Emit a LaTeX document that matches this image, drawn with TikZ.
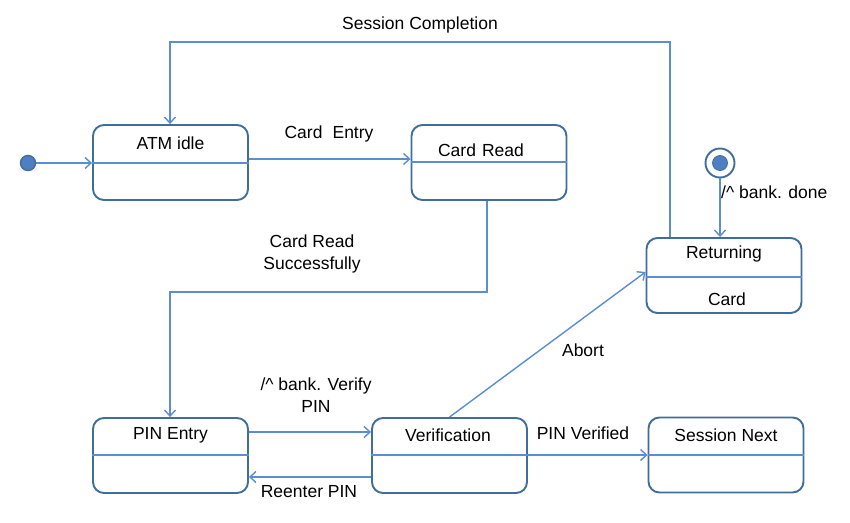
\documentclass[tikz,border=0pt]{standalone}
\usepackage{fontspec}
\setmainfont{Liberation Sans}
\usetikzlibrary{arrows.meta}
\definecolor{bord}{HTML}{3F6E9C}
\definecolor{conn}{HTML}{5B8DD2}
\definecolor{dotfill}{HTML}{4F7FC0}
\begin{document}
\begin{tikzpicture}[x=1pt,y=-1pt,
  state/.style={draw=bord,line width=1.9pt,rounded corners=11pt,fill=white,minimum width=155pt,minimum height=75pt,inner sep=0pt},
  txt/.style={font=\fontsize{17.5}{20}\selectfont,inner sep=0pt,text=black},
  lbl/.style={font=\fontsize{17.5}{22.5}\selectfont,inner sep=0pt,text=black,align=center},
  conn/.style={draw=conn,line width=1.4pt},
  arr/.style={conn,-{Straight Barb[length=6pt,width=11pt,line width=1.4pt]}},
  divl/.style={draw=conn,line width=1.4pt}]
\useasboundingbox (0,0) rectangle (850,522);
% states
\node[state] (idle) at (170.5,162.5) {};
\node[state] (card) at (489,162.5) {};
\node[state] (ret) at (724,275.5) {};
\node[state] (pin) at (170.5,455.5) {};
\node[state] (ver) at (449.5,455.5) {};
\node[state] (sess) at (726,455) {};
% dividers
\draw[divl] (idle.west |- 0,163) -- (idle.east |- 0,163);
\draw[divl] (card.west |- 0,162) -- (card.east |- 0,162);
\draw[divl] (ret.west |- 0,277) -- (ret.east |- 0,277);
\draw[divl] (pin.west |- 0,455) -- (pin.east |- 0,455);
\draw[divl] (ver.west |- 0,455) -- (ver.east |- 0,455);
\draw[divl] (sess.west |- 0,455) -- (sess.east |- 0,455);
% titles
\node[txt] (idle-t) at (170.5,143) {ATM idle};
\node[txt] (card-t) at (481,150) {Card\hspace{0.35em}Read};
\node[txt] (ret-t) at (724,254) {Returning};
\node[txt] (ret-c) at (727,299) {Card};
\node[txt] (pin-t) at (170.5,435) {PIN Entry};
\node[txt] (ver-t) at (448,435) {Verification};
\node[txt] (sess-t) at (726,435) {Session Next};
% pseudo states
\node[circle,draw=bord,fill=dotfill,line width=1.4pt,minimum size=15pt,inner sep=0pt] (init) at (28,163) {};
\node[circle,draw=bord,fill=white,line width=1.9pt,minimum size=29pt,inner sep=0pt] (fin) at (720,163) {};
\node[circle,draw=bord,fill=dotfill,line width=0.8pt,minimum size=15pt,inner sep=0pt] (fin-in) at (720,163) {};
% coordinates
\coordinate (c1) at (487,292);
\coordinate (c2) at (170,292);
\coordinate (c3) at (670,42);
\coordinate (c4) at (170,42);
% connectors
\draw[arr] (init.east) -- (idle.west |- init.east);
\draw[arr] (idle.east |- 0,159) -- (card.west |- 0,159);
\draw[arr] (card.south -| c1) -- (c1) -- (c2) -- (pin.north -| c2);
\draw[arr] (ret.north -| c3) -- (c3) -- (c4) -- (idle.north -| c4);
\draw[arr] (fin.south) -- (ret.north -| fin.south);
\draw[arr] (pin.east |- 0,432) -- (ver.west |- 0,432);
\draw[arr] (ver.west |- 0,477) -- (pin.east |- 0,477);
\draw[arr] (ver.north) -- (ret.west |- 0,272);
\draw[arr] (ver.east |- 0,455) -- (sess.west |- 0,455);
% labels
\node[lbl] (l-sc) at (420,25) {Session Completion};
\node[lbl] (l-ce) at (329,134) {Card\hspace{0.3em} Entry};
\node[lbl] (l-crs) at (312,254) {Card Read\\Successfully};
\node[lbl] (l-bv) at (316,395) {/\textasciicircum{} bank. Verify\\PIN};
\node[lbl] (l-rp) at (309,492) {Reenter PIN};
\node[lbl] (l-ab) at (583,350) {Abort};
\node[lbl] (l-pv) at (583,433) {PIN Verified};
\node[lbl,anchor=west] (l-bd) at (721,192) {/\textasciicircum{} bank. done};
\end{tikzpicture}
\end{document}
